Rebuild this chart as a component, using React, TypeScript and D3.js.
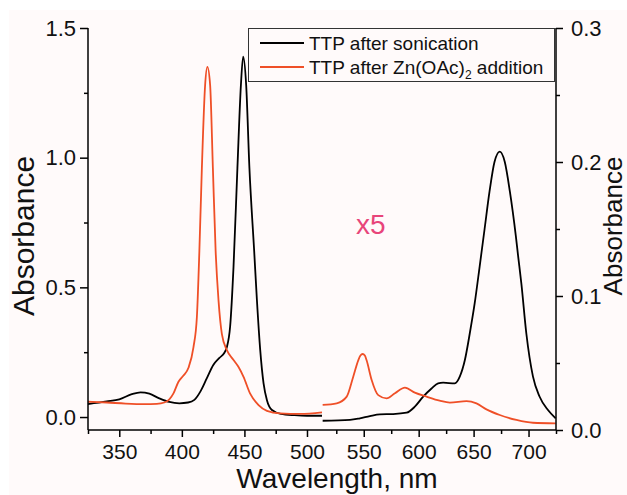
import React, { useEffect, useRef } from 'react';
import * as d3 from 'd3';

// TTP after sonication, Soret region (left axis)
const sonicationSoretNm = [325, 340, 350, 360, 367, 374, 382, 390, 398, 405, 410, 415, 420, 425, 430, 434, 436, 438.6, 441.3, 444.4, 447.2, 449, 451.4, 454, 457.8, 460, 462.6, 465.3, 468, 472, 479, 490, 500, 512];
const sonicationSoretAbs = [0.05, 0.06, 0.068, 0.088, 0.095, 0.09, 0.072, 0.058, 0.053, 0.056, 0.066, 0.1, 0.15, 0.2, 0.228, 0.248, 0.27, 0.35, 0.58, 0.96, 1.28, 1.39, 1.28, 0.96, 0.64, 0.45, 0.26, 0.13, 0.065, 0.027, 0.012, 0.007, 0.005, 0.005];

// TTP after sonication, Q-band region (right axis, x5)
const sonicationQNm = [512.6, 537.5, 546.5, 555.6, 564.7, 576.8, 589, 596.5, 604.1, 611.7, 617.7, 622.3, 632.9, 637.5, 642, 646.5, 651, 655.5, 660, 664.5, 669, 673.8, 678.4, 683, 688.4, 690.5, 693.5, 698, 704, 710, 717.7, 724.7];
const sonicationQAbs = [0.0069, 0.0075, 0.0087, 0.0104, 0.0117, 0.0119, 0.0129, 0.0174, 0.0249, 0.031, 0.0348, 0.0353, 0.0348, 0.04, 0.052, 0.072, 0.0946, 0.122, 0.15, 0.178, 0.2, 0.2077, 0.2, 0.178, 0.145, 0.13, 0.109, 0.072, 0.04, 0.025, 0.0149, 0.0087];

// TTP after Zn(OAc)2 addition, Soret region (left axis)
const zincSoretNm = [325, 340, 355, 370, 380, 386, 390, 393.3, 397.3, 401.3, 405.3, 409.3, 412, 414, 416, 418.6, 420.4, 422.6, 424.8, 427, 429.3, 432, 436, 441.3, 445.3, 449.3, 454.6, 461.3, 468, 478.6, 494.6, 512];
const zincSoretAbs = [0.059, 0.056, 0.052, 0.05, 0.051, 0.056, 0.068, 0.091, 0.136, 0.16, 0.19, 0.27, 0.385, 0.64, 0.96, 1.28, 1.35, 1.28, 0.96, 0.64, 0.45, 0.32, 0.258, 0.22, 0.193, 0.155, 0.09, 0.046, 0.024, 0.014, 0.012, 0.018];

// TTP after Zn(OAc)2 addition, Q-band region (right axis, x5)
const zincQNm = [512.6, 525.4, 534.5, 540.5, 545, 547, 549, 551, 552.6, 557.2, 563.2, 570.8, 578.4, 587.5, 596.5, 607.2, 619, 628.4, 643.5, 652.6, 661.7, 673.8, 689, 704, 724.7];
const zincQAbs = [0.0187, 0.0199, 0.0249, 0.04, 0.052, 0.0556, 0.0567, 0.0556, 0.052, 0.0373, 0.026, 0.0236, 0.0274, 0.0316, 0.0279, 0.0249, 0.0219, 0.0204, 0.0216, 0.0199, 0.0154, 0.0112, 0.0075, 0.0054, 0.005];

const xMajorTicks = [350, 400, 450, 500, 550, 600, 650, 700];
const xMinorTicks = [325, 375, 425, 475, 525, 575, 625, 675, 725];
const leftMajorTicks = [0.0, 0.5, 1.0, 1.5];
const leftMinorTicks = [0.25, 0.75, 1.25];
const rightMajorTicks = [0.0, 0.1, 0.2, 0.3];
const rightMinorTicks = [0.05, 0.15, 0.25];

const legendLabels = ['TTP after sonication', 'TTP after Zn(OAc)', ' addition'];

const BLACK = '#000000';
const RED = '#ef4f27';
const FONT = '"Liberation Sans", Arial, sans-serif';

const App = () => {
  const svgRef = useRef(null);

  useEffect(() => {
    const svg = d3.select(svgRef.current);
    svg.selectAll('*').remove();

    const width = 627;
    const height = 495;
    const left = 88, right = 556, top = 28, bottom = 430;

    // the wavelength axis changes scale at 512 nm
    const x = d3.scaleLinear().domain([325, 512, 725]).range([left, 322, right]);
    const yLeft = d3.scaleLinear().domain([-0.05, 1.5]).range([bottom, top]);
    const yRight = d3.scaleLinear().domain([0, 0.3]).range([bottom, top]);

    svg.append('rect')
      .attr('x', 9).attr('y', 10)
      .attr('width', width - 9).attr('height', height - 10)
      .attr('fill', '#fffafa');

    // Curves
    const drawCurve = (nm, abs, y, color) => {
      const pts = nm.map((d, i) => [d, abs[i]]);
      const line = d3.line()
        .x(d => x(d[0]))
        .y(d => y(d[1]))
        .curve(d3.curveMonotoneX);
      svg.append('path')
        .datum(pts)
        .attr('d', line)
        .attr('fill', 'none')
        .attr('stroke', color)
        .attr('stroke-width', 1.8)
        .attr('stroke-linejoin', 'round');
    };
    drawCurve(sonicationSoretNm, sonicationSoretAbs, yLeft, BLACK);
    drawCurve(sonicationQNm, sonicationQAbs, yRight, BLACK);
    drawCurve(zincSoretNm, zincSoretAbs, yLeft, RED);
    drawCurve(zincQNm, zincQAbs, yRight, RED);

    const styleAxis = (g, size) => {
      g.select('.domain').remove();
      g.selectAll('line').attr('stroke', '#000').attr('stroke-width', 1.5);
      g.selectAll('text')
        .attr('font-family', FONT)
        .attr('font-size', size)
        .attr('fill', '#111');
    };

    // Bottom axis
    const gx = svg.append('g').attr('transform', `translate(0,${bottom})`);
    gx.append('g').call(d3.axisBottom(x).tickValues(xMajorTicks).tickSize(7).tickPadding(7).tickFormat(d3.format('d')))
      .call(g => styleAxis(g, 21));
    gx.append('g').call(d3.axisBottom(x).tickValues(xMinorTicks).tickSize(4).tickFormat(() => ''))
      .call(g => styleAxis(g, 21));
    gx.append('line').attr('x1', left).attr('x2', right).attr('stroke', '#000').attr('stroke-width', 1.5);

    // Left axis
    const gl = svg.append('g').attr('transform', `translate(${left},0)`);
    gl.append('g').call(d3.axisLeft(yLeft).tickValues(leftMajorTicks).tickSize(8).tickPadding(4).tickFormat(d3.format('.1f')))
      .call(g => styleAxis(g, 22));
    gl.append('g').call(d3.axisLeft(yLeft).tickValues(leftMinorTicks).tickSize(4).tickFormat(() => ''))
      .call(g => styleAxis(g, 22));
    gl.append('line').attr('y1', top).attr('y2', bottom).attr('stroke', '#000').attr('stroke-width', 1.5);

    // Right axis
    const gr = svg.append('g').attr('transform', `translate(${right},0)`);
    gr.append('g').call(d3.axisRight(yRight).tickValues(rightMajorTicks).tickSize(7).tickPadding(8).tickFormat(d3.format('.1f')))
      .call(g => styleAxis(g, 22));
    gr.append('g').call(d3.axisRight(yRight).tickValues(rightMinorTicks).tickSize(4).tickFormat(() => ''))
      .call(g => styleAxis(g, 22));
    gr.append('line').attr('y1', top).attr('y2', bottom).attr('stroke', '#000').attr('stroke-width', 1.5);

    // Axis titles
    svg.append('text')
      .attr('x', (left + right) / 2 + 15).attr('y', 488)
      .attr('text-anchor', 'middle')
      .attr('font-family', FONT).attr('font-size', 28).attr('fill', '#111')
      .text('Wavelength, nm');

    svg.append('text')
      .attr('transform', 'translate(34,236) rotate(-90)')
      .attr('text-anchor', 'middle')
      .attr('font-family', FONT).attr('font-size', 30).attr('fill', '#111')
      .text('Absorbance');

    svg.append('text')
      .attr('transform', 'translate(622,226) rotate(-90)')
      .attr('text-anchor', 'middle')
      .attr('font-family', FONT).attr('font-size', 26).attr('fill', '#111')
      .text('Absorbance');

    // x5 annotation
    svg.append('text')
      .attr('x', 356).attr('y', 234)
      .attr('font-family', FONT).attr('font-size', 28).attr('fill', '#e8457a')
      .text('x5');

    // Legend
    const lg = svg.append('g');
    lg.append('rect')
      .attr('x', 248.5).attr('y', 28.5)
      .attr('width', 306).attr('height', 53)
      .attr('fill', 'none').attr('stroke', '#333').attr('stroke-width', 1);
    const rows = [
      { color: BLACK, y: 43 },
      { color: RED, y: 67 },
    ];
    rows.forEach((r, i) => {
      lg.append('line')
        .attr('x1', 260).attr('x2', 304)
        .attr('y1', r.y).attr('y2', r.y)
        .attr('stroke', r.color).attr('stroke-width', 1.8);
      const t = lg.append('text')
        .attr('x', 309).attr('y', r.y + 6.5)
        .attr('font-family', FONT).attr('font-size', 19).attr('fill', '#111');
      if (i === 0) {
        t.text(legendLabels[0]);
      } else {
        t.append('tspan').text(legendLabels[1]);
        t.append('tspan').attr('font-size', 12).attr('dy', 5).text('2');
        t.append('tspan').attr('dy', -5).text(legendLabels[2]);
      }
    });
  }, []);

  return (
    <svg
      ref={svgRef}
      width={627}
      height={495}
      style={{ position: 'absolute', left: 0, top: 0, background: '#ffffff' }}
    />
  );
};

export default App;
